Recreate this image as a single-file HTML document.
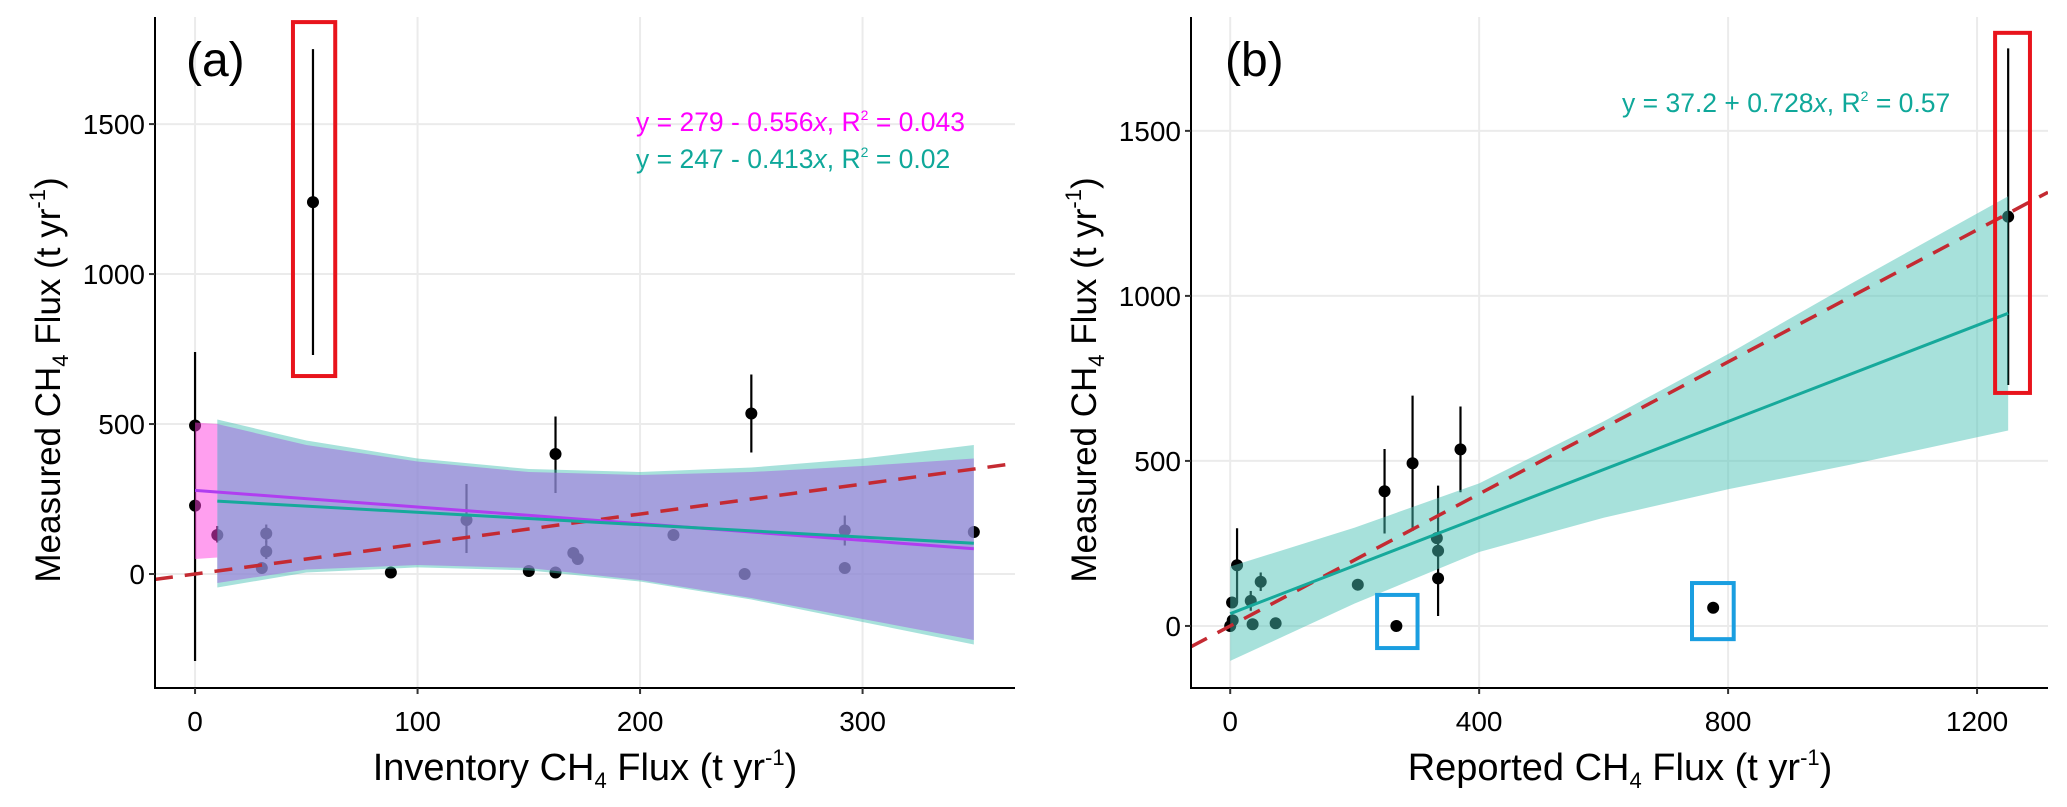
<!DOCTYPE html>
<html><head><meta charset="utf-8"><style>
body{margin:0;background:#fff;}
svg{display:block;font-family:"Liberation Sans",Arial,sans-serif;}
</style></head><body>
<svg id="chart" width="2067" height="807" viewBox="0 0 2067 807" xmlns="http://www.w3.org/2000/svg"></svg>
<script>
// ---- Panel (a) data ----
const aX = [0,0,10,32,32,30,53,88,122,150,162,162,170,172,215,247,250,292,292,350];
const aY = [495,228,130,135,75,20,1240,5,180,10,5,400,70,50,130,0,535,145,20,140];
const aLo = [-290,null,105,105,50,null,730,null,70,null,null,270,null,null,null,null,405,95,null,null];
const aHi = [740,null,160,165,110,null,1750,null,300,null,null,525,null,null,null,null,665,195,null,null];
const aBandX = [10,50,100,150,200,250,300,350];
const aPurpleUp = [500,430,375,340,330,340,360,385];
const aPurpleLo = [-30,15,30,20,-20,-80,-150,-220];
const aTealUp = [515,445,385,350,340,355,385,430];
const aTealLo = [-45,5,22,12,-25,-85,-160,-235];
const aMagX = [0,10];
const aMagUp = [505,500];
const aMagLo = [50,55];
const aXTicks = [0,100,200,300];
const aYTicks = [0,500,1000,1500];
// ---- Panel (b) data ----
const bX = [3,11,0,4,33,49,36,73,205,248,293,370,332,334,334,267,776,1250];
const bY = [71,184,0,17,76,134,5,8,125,408,493,535,266,228,144,0,55,1240];
const bLo = [null,71,null,null,46,106,null,null,null,280,288,405,null,null,30,null,null,730];
const bHi = [null,296,null,null,106,162,null,null,null,536,698,665,null,null,425,null,null,1750];
const bBandX = [0,200,400,600,800,1000,1250];
const bBandUp = [180,298,432,620,824,1040,1302];
const bBandLo = [-106,68,224,328,414,490,592];
const bXTicks = [0,400,800,1200];
const bYTicks = [0,500,1000,1500];

const NS = "http://www.w3.org/2000/svg";
const svg = document.getElementById('chart');
function mk(tag, attrs, parent){
  const e = document.createElementNS(NS, tag);
  for (const k in attrs) e.setAttribute(k, attrs[k]);
  (parent||svg).appendChild(e);
  return e;
}

function panel(cfg){
  const g = mk('g', {});
  
  
  const sx = v => cfg.x0 + (v - cfg.xmin) / (cfg.xmax - cfg.xmin) * (cfg.x1 - cfg.x0);
  const sy = v => cfg.y1 - (v - cfg.ymin) / (cfg.ymax - cfg.ymin) * (cfg.y1 - cfg.y0);
  const clipId = cfg.name + '-clip';
  const cp = mk('clipPath', {id: clipId}, g);
  mk('rect', {x: cfg.x0, y: cfg.y0, width: cfg.x1 - cfg.x0, height: cfg.y1 - cfg.y0}, cp);
  cfg.xt.forEach(t => {
    const l = mk('line', {x1: sx(t), x2: sx(t), y1: cfg.y0, y2: cfg.y1, stroke: '#ebebeb', 'stroke-width': 2}, g);
    
    
  });
  cfg.yt.forEach(t => {
    const l = mk('line', {x1: cfg.x0, x2: cfg.x1, y1: sy(t), y2: sy(t), stroke: '#ebebeb', 'stroke-width': 2}, g);
    
    
  });
  const inner = mk('g', {'clip-path': 'url(#' + clipId + ')'}, g);
  cfg.px.forEach((xv, i) => {
    if (cfg.plo[i] !== null) {
      const e = mk('line', {x1: sx(xv), x2: sx(xv), y1: sy(cfg.plo[i]), y2: sy(cfg.phi[i]), stroke: '#000', 'stroke-width': 2.2}, inner);
      
      
    }
    const c = mk('circle', {cx: sx(xv), cy: sy(cfg.py[i]), r: 6, fill: '#000'}, inner);
    
    
  });
  cfg.bands.forEach(b => {
    let pts = b.x.map((xv, i) => sx(xv) + ',' + sy(b.up[i]));
    pts = pts.concat(b.x.slice().reverse().map((xv, i) => sx(xv) + ',' + sy(b.lo[b.x.length - 1 - i])));
    const p = mk('polygon', {points: pts.join(' '), fill: b.fill, 'fill-opacity': b.op}, inner);
    
    
  });
  const d = mk('line', {x1: sx(cfg.xmin), y1: sy(cfg.xmin), x2: sx(cfg.xmax), y2: sy(cfg.xmax), stroke: '#c42a32', 'stroke-width': 3.5, 'stroke-dasharray': '18 12'}, inner);
  
  
  cfg.fits.forEach(f => {
    const l = mk('line', {x1: sx(f.xa), y1: sy(f.a + f.b * f.xa), x2: sx(f.xb), y2: sy(f.a + f.b * f.xb), stroke: f.color, 'stroke-width': 3}, inner);
    
    
  });
  cfg.boxes.forEach(bx => {
    const r = mk('rect', {x: sx(bx.xa), y: sy(bx.yb), width: sx(bx.xb) - sx(bx.xa), height: sy(bx.ya) - sy(bx.yb), fill: 'none', stroke: bx.color, 'stroke-width': 4}, g);
    
    
  });
  const ax = mk('line', {x1: cfg.x0, x2: cfg.x0, y1: cfg.y0, y2: cfg.y1 + 1, stroke: '#000', 'stroke-width': 2}, g);
  
  
  const ay = mk('line', {x1: cfg.x0 - 1, x2: cfg.x1, y1: cfg.y1, y2: cfg.y1, stroke: '#000', 'stroke-width': 2}, g);
  
  
  cfg.xt.forEach(t => {
    mk('line', {x1: sx(t), x2: sx(t), y1: cfg.y1, y2: cfg.y1 + 6, stroke: '#333', 'stroke-width': 2}, g);
    const tx = mk('text', {x: sx(t), y: cfg.y1 + 43, 'text-anchor': 'middle', 'font-size': 28, fill: '#000'}, g);
    tx.textContent = t;
    
    
  });
  cfg.yt.forEach(t => {
    mk('line', {x1: cfg.x0 - 6, x2: cfg.x0, y1: sy(t), y2: sy(t), stroke: '#333', 'stroke-width': 2}, g);
    const tx = mk('text', {x: cfg.x0 - 10, y: sy(t) + 10, 'text-anchor': 'end', 'font-size': 28, fill: '#000'}, g);
    tx.textContent = t;
    
    
  });
  return {sx, sy, g};
}

panel({name: 'panel-a', x0: 155, x1: 1015, y0: 17, y1: 688, xmin: -18, xmax: 368.5, ymin: -380, ymax: 1857,
  xt: aXTicks, yt: aYTicks, px: aX, py: aY, plo: aLo, phi: aHi,
  bands: [
    {name: 'teal-confidence-band', x: aBandX, up: aTealUp, lo: aTealLo, fill: '#48c1b3', op: 0.48},
    {name: 'purple-confidence-band', x: aBandX, up: aPurpleUp, lo: aPurpleLo, fill: '#a475de', op: 0.6},
    {name: 'magenta-confidence-band', x: aMagX, up: aMagUp, lo: aMagLo, fill: '#ff40e0', op: 0.5}
  ],
  fits: [
    {name: 'purple-fit-line', a: 279, b: -0.556, xa: 0, xb: 350, color: '#b03ef0'},
    {name: 'teal-fit-line', a: 247, b: -0.413, xa: 10, xb: 350, color: '#16a99b'}
  ],
  boxes: [{name: 'outlier-box', xa: 44, xb: 63, ya: 660, yb: 1840, color: '#e8141c'}]
});
panel({name: 'panel-b', x0: 1191, x1: 2048, y0: 17, y1: 688, xmin: -63, xmax: 1314, ymin: -188, ymax: 1845,
  xt: bXTicks, yt: bYTicks, px: bX, py: bY, plo: bLo, phi: bHi,
  bands: [{name: 'teal-confidence-band', x: bBandX, up: bBandUp, lo: bBandLo, fill: '#48c1b3', op: 0.48}],
  fits: [{name: 'teal-fit-line', a: 37.2, b: 0.728, xa: 0, xb: 1250, color: '#16a99b'}],
  boxes: [
    {name: 'outlier-box', xa: 1229, xb: 1285, ya: 706, yb: 1797, color: '#e8141c'},
    {name: 'blue-box-1', xa: 236, xb: 301, ya: -67, yb: 94, color: '#1a9ee0'},
    {name: 'blue-box-2', xa: 742, xb: 809, ya: -40, yb: 130, color: '#1a9ee0'}
  ]
});

(function(){
  function t(x, y, size, fill, html, name, extra){
    const e = document.createElementNS(NS, 'text');
    e.setAttribute('x', x); e.setAttribute('y', y);
    e.setAttribute('font-size', size); e.setAttribute('fill', fill);
    if (extra) for (const k in extra) e.setAttribute(k, extra[k]);
    e.innerHTML = html;
    
    
    svg.appendChild(e);
    return e;
  }
  t(186, 76, 48, '#000', '(a)', 'panel-a-label');
  t(1225, 76, 48, '#000', '(b)', 'panel-b-label');
  t(636, 131, 26.5, '#ff00ff', 'y = 279 - 0.556<tspan font-style="italic">x</tspan>, R<tspan font-size="14" dy="-11">2</tspan><tspan dy="11"> = 0.043</tspan>', 'equation-purple');
  t(636, 168, 26.5, '#0fa89a', 'y = 247 - 0.413<tspan font-style="italic">x</tspan>, R<tspan font-size="14" dy="-11">2</tspan><tspan dy="11"> = 0.02</tspan>', 'equation-teal-a');
  t(1622, 112, 26.5, '#0fa89a', 'y = 37.2 + 0.728<tspan font-style="italic">x</tspan>, R<tspan font-size="14" dy="-11">2</tspan><tspan dy="11"> = 0.57</tspan>', 'equation-teal-b');
  const ttl = 'CH<tspan font-size="22" dy="8">4</tspan><tspan dy="-8"> Flux (t yr</tspan><tspan font-size="22" dy="-15">-1</tspan><tspan dy="15">)</tspan>';
  t(585, 780, 38, '#000', 'Inventory ' + ttl, 'x-axis-title-a', {'text-anchor': 'middle'});
  t(1620, 780, 38, '#000', 'Reported ' + ttl, 'x-axis-title-b', {'text-anchor': 'middle'});
  t(0, 0, 35, '#000', 'Measured ' + ttl, 'y-axis-title-a', {'text-anchor': 'middle', transform: 'translate(60,380) rotate(-90)'});
  t(0, 0, 35, '#000', 'Measured ' + ttl, 'y-axis-title-b', {'text-anchor': 'middle', transform: 'translate(1096,380) rotate(-90)'});
})();
</script>
</body></html>
